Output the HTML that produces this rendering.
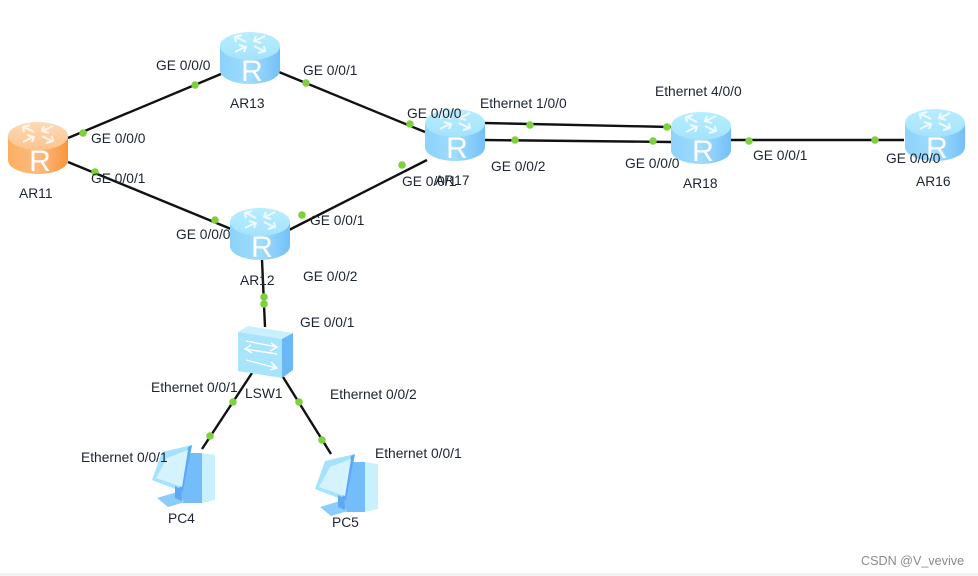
<!DOCTYPE html>
<html><head><meta charset="utf-8"><style>
html,body{margin:0;padding:0;background:#fff;width:978px;height:576px;overflow:hidden}
svg{display:block;filter:blur(.3px)}
text{font-family:"Liberation Sans",sans-serif;font-size:13.8px;fill:#1c2430}
.d{fill:#7fd13b}
.l{stroke:#111;stroke-width:2.4;fill:none;stroke-linecap:butt}
.r{font-size:30px;fill:#fff}
</style></head><body>
<svg width="978" height="576" viewBox="0 0 978 576" xmlns="http://www.w3.org/2000/svg">
<defs>
<linearGradient id="b" x1="0" x2="1" y1="0" y2="0"><stop offset="0" stop-color="#8cd2fb"/><stop offset=".5" stop-color="#a0dcfd"/><stop offset="1" stop-color="#74c0f8"/></linearGradient>
<linearGradient id="o" x1="0" x2="1" y1="0" y2="0"><stop offset="0" stop-color="#fbae62"/><stop offset=".5" stop-color="#fdbc80"/><stop offset="1" stop-color="#f79640"/></linearGradient>
<linearGradient id="t" x1="0" x2="0" y1="0" y2="1"><stop offset="0" stop-color="#b8eefd"/><stop offset="1" stop-color="#a4e2fc"/></linearGradient>
<linearGradient id="t2" x1="0" x2="0" y1="0" y2="1"><stop offset="0" stop-color="#fdd9b5"/><stop offset="1" stop-color="#fcc48e"/></linearGradient>
<g id="arrows" fill="none" stroke="#fff" stroke-width="2" opacity=".8">
<path d="M-4 -2 L-14 -7 M-14 -2 L-15 -7 L-8 -9"/>
<path d="M15 -8 L5 -3 M6 -8 L4 -3 L11 -1"/>
<path d="M4 2 L14 7 M14 2 L15 7 L8 9"/>
<path d="M-15 8 L-5 3 M-6 8 L-4 3 L-11 1"/>
</g>
<g id="rb">
<path d="M-30 -12 V12 C-30 21 -14 26 0 26 C14 26 30 21 30 12 V-12 Z" fill="url(#b)"/>
<ellipse cx="0" cy="-12" rx="30" ry="14" fill="url(#t)"/>
<use href="#arrows" y="-14"/>
</g>
<g id="ro">
<path d="M-30 -12 V12 C-30 21 -14 26 0 26 C14 26 30 21 30 12 V-12 Z" fill="url(#o)"/>
<ellipse cx="0" cy="-12" rx="30" ry="14" fill="url(#t2)"/>
<use href="#arrows" y="-14"/>
</g>
<g id="pc">
<path d="M35 10 L52 10 L52 60 L33 60 L28 50 Z" fill="#74bcfa"/>
<path d="M52 10 L65 12 L65 57 L52 60 Z" fill="#c8f0fd"/>
<path d="M12 9 L42 2 L33 49 L2 37 Z" fill="#a5e3fc"/>
<path d="M38 4 L42 2 L33 49 L29 47 Z" fill="#5fa8f2"/>
<path d="M17 15 L38 7 L32 44 L6 35 Z" fill="#d4f3fe"/>
<path d="M7 55 L27 49 L35 59 L18 64 Z" fill="#8accfb"/>
<path d="M25 43 L31 46 L32 58 L25 55 Z" fill="#5fa8f2"/>
</g>
</defs>
<rect width="978" height="576" fill="#fff"/>
<rect x="0" y="573" width="978" height="3" fill="#f1f1f1"/>

<path class="l" d="M68 138 L221 74"/>
<path class="l" d="M68 162 L231 229"/>
<path class="l" d="M279 72 L425 132"/>
<path class="l" d="M289 230 L427 160"/>
<path class="l" d="M484 123 L671 127"/>
<path class="l" d="M484 140 L671 142"/>
<path class="l" d="M730 140 L904 140"/>
<path class="l" d="M262 260 L265 327"/>
<path class="l" d="M252 373 L202 449"/>
<path class="l" d="M283 377 L331 454"/>

<use href="#rb" x="250" y="58"/>
<use href="#ro" x="38" y="148"/>
<use href="#rb" x="260" y="234"/>
<use href="#rb" x="455" y="135"/>
<use href="#rb" x="701" y="138"/>
<use href="#rb" x="935" y="135"/>
<text x="252" y="81" class="r" text-anchor="middle">R</text>
<text x="40" y="171" class="r" text-anchor="middle">R</text>
<text x="262" y="257" class="r" text-anchor="middle">R</text>
<text x="457" y="158" class="r" text-anchor="middle">R</text>
<text x="703" y="161" class="r" text-anchor="middle">R</text>
<text x="937" y="158" class="r" text-anchor="middle">R</text>

<!-- switch -->
<path d="M238 332 L248 326 L293 333 L282 339 Z" fill="#c8f0fd"/>
<path d="M282 339 L293 333 L293 370 L282 378 Z" fill="#6cb8f7"/>
<path d="M238 332 L282 339 L282 378 L238 371 Z" fill="#a8e4fc"/>
<g fill="none" stroke="#fff" stroke-width="1.4">
<path d="M246 341 L277 347 M271 343 L277 347 L270 351"/>
<path d="M277 354 L245 349 M251 345 L245 349 L252 353"/>
<path d="M246 360 L277 368 M271 362 L277 368 L270 370"/>
</g>

<use href="#pc" x="150" y="443"/>
<use href="#pc" x="313" y="452"/>

<g class="d">
<circle cx="195" cy="85" r="3.8"/><circle cx="83" cy="133" r="3.8"/><circle cx="95" cy="172" r="3.8"/>
<circle cx="306" cy="83" r="3.8"/><circle cx="410" cy="124" r="3.8"/><circle cx="215" cy="220" r="3.8"/>
<circle cx="302" cy="215" r="3.8"/><circle cx="402" cy="165" r="3.8"/>
<circle cx="530" cy="125" r="3.8"/><circle cx="515" cy="140" r="3.8"/>
<circle cx="667" cy="127" r="3.8"/><circle cx="653" cy="141" r="3.8"/>
<circle cx="749" cy="141" r="3.8"/><circle cx="875" cy="140" r="3.8"/>
<circle cx="264" cy="297" r="3.8"/><circle cx="264" cy="304" r="3.8"/>
<circle cx="233" cy="402" r="3.8"/><circle cx="210" cy="436" r="3.8"/>
<circle cx="299" cy="402" r="3.8"/><circle cx="322" cy="440" r="3.8"/>
</g>

<text x="156" y="70">GE 0/0/0</text>
<text x="303" y="75">GE 0/0/1</text>
<text x="91" y="143">GE 0/0/0</text>
<text x="91" y="183">GE 0/0/1</text>
<text x="176" y="239">GE 0/0/0</text>
<text x="310" y="225">GE 0/0/1</text>
<text x="303" y="281">GE 0/0/2</text>
<text x="300" y="327">GE 0/0/1</text>
<text x="407" y="118">GE 0/0/0</text>
<text x="402" y="186">GE 0/0/1</text>
<text x="480" y="108">Ethernet 1/0/0</text>
<text x="491" y="171">GE 0/0/2</text>
<text x="655" y="96">Ethernet 4/0/0</text>
<text x="625" y="168">GE 0/0/0</text>
<text x="753" y="160">GE 0/0/1</text>
<text x="886" y="163">GE 0/0/0</text>
<text x="151" y="392">Ethernet 0/0/1</text>
<text x="330" y="399">Ethernet 0/0/2</text>
<text x="81" y="462">Ethernet 0/0/1</text>
<text x="375" y="458">Ethernet 0/0/1</text>
<text x="230" y="108">AR13</text>
<text x="19" y="198">AR11</text>
<text x="240" y="285">AR12</text>
<text x="435" y="185">AR17</text>
<text x="683" y="188">AR18</text>
<text x="916" y="186">AR16</text>
<text x="245" y="398">LSW1</text>
<text x="168" y="523">PC4</text>
<text x="332" y="527">PC5</text>
<text x="861" y="565" style="fill:#8a8a8a;font-size:12.6px">CSDN @V_vevive</text>
</svg>
</body></html>
